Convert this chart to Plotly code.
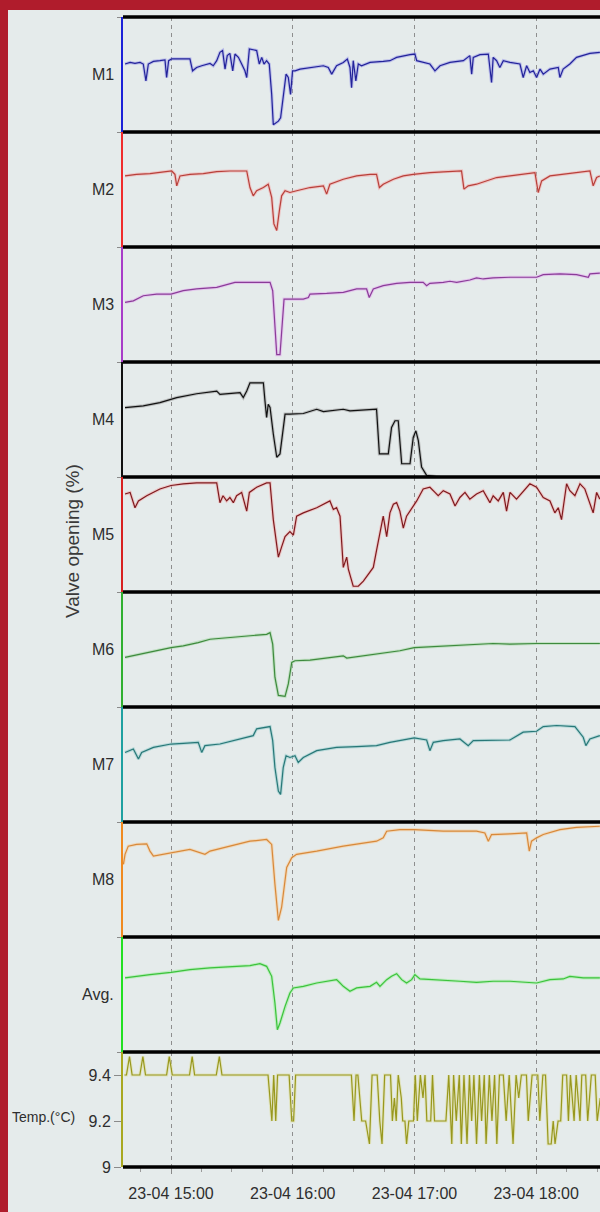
from datetime import datetime, timedelta
import plotly.graph_objects as go
from plotly.subplots import make_subplots

# ---------------- data (time = minutes after 14:00 on 23-04, values = valve opening %) -------------
M1_MIN = [37.3, 39.8, 42.2, 44.7, 46.3, 47.6, 48.8, 51.3, 54.5, 57.0,
          57.8, 58.8, 60.3, 69.3, 70.6, 72.6, 75.1, 79.2, 80.8, 82.5,
          84.1, 85.4, 86.6, 87.7, 89.0, 90.4, 91.5, 93.2, 94.8, 96.4,
          97.3, 98.6, 100.5, 102.2, 103.5, 104.7, 105.8, 107.1, 108.4, 109.6,
          110.4, 112.9, 114.0, 115.3, 116.7, 117.8, 118.9, 119.9, 121.1, 123.6,
          128.5, 135.1, 137.5, 139.2, 141.6, 144.9, 146.9, 148.2, 149.0, 149.8,
          151.1, 152.3, 153.9, 158.1, 164.6, 167.9, 169.6, 171.2, 177.8, 180.2,
          181.1, 187.6, 190.1, 192.6, 197.5, 204.1, 207.3, 208.2, 209.0, 212.3,
          216.4, 218.0, 218.8, 220.5, 222.1, 223.8, 227.1, 232.0, 233.6, 235.3,
          236.9, 238.6, 240.2, 241.9, 243.5, 246.8, 250.9, 251.7, 253.3, 256.6,
          259.9, 263.2, 266.5, 271.4]
M1_VAL = [59.1, 60.5, 59.6, 60.5, 59.1, 44.4, 59.1, 61.4, 62.0, 62.6,
          47.4, 62.0, 63.5, 63.5, 53.2, 56.1, 57.6, 59.6, 57.6, 62.0,
          69.3, 70.8, 54.7, 66.4, 68.4, 53.2, 67.8, 64.9, 59.1, 53.2,
          47.4, 72.2, 71.5, 70.8, 59.1, 64.9, 59.1, 62.0, 59.1, 32.7,
          6.4, 9.4, 12.3, 29.8, 50.3, 47.4, 32.7, 53.2, 53.2, 54.7,
          56.1, 57.6, 56.1, 50.3, 57.6, 60.5, 63.5, 56.1, 38.6, 62.0,
          44.4, 59.1, 57.6, 60.5, 61.4, 62.0, 63.5, 64.9, 67.3, 67.8,
          62.0, 59.1, 53.2, 57.6, 60.5, 62.0, 66.4, 50.3, 64.9, 67.3,
          67.8, 43.0, 64.9, 62.0, 56.1, 62.0, 60.5, 59.1, 47.4, 57.6,
          51.8, 53.2, 47.4, 54.7, 50.3, 54.7, 56.1, 47.4, 54.7, 59.1,
          64.9, 66.4, 68.4, 69.3]

M2_MIN = [37.3, 43.0, 49.6, 54.5, 60.3, 61.9, 62.8, 64.4, 69.3, 75.9,
          82.5, 89.0, 97.3, 98.9, 100.5, 102.2, 105.5, 107.9, 109.6, 110.7,
          112.1, 113.4, 114.5, 116.2, 118.6, 121.9, 125.2, 128.5, 135.1, 136.7,
          138.3, 144.9, 151.5, 158.1, 161.3, 162.7, 164.6, 169.6, 174.5, 179.4,
          187.6, 194.2, 203.2, 204.4, 206.5, 210.6, 215.6, 220.5, 227.1, 233.6,
          239.4, 241.0, 242.7, 246.8, 253.3, 259.9, 266.5, 268.1, 269.8, 271.4]
M2_VAL = [61.8, 63.2, 63.8, 64.7, 66.1, 63.2, 53.2, 61.8, 63.2, 63.8,
          65.5, 66.1, 66.1, 51.7, 44.5, 48.9, 51.7, 54.6, 43.1, 20.1,
          14.4, 31.6, 44.5, 48.9, 47.4, 48.9, 50.3, 51.7, 53.2, 46.0,
          54.6, 58.9, 61.8, 63.2, 63.2, 51.7, 54.6, 58.9, 61.8, 63.2,
          64.7, 65.5, 66.1, 50.3, 53.2, 54.6, 57.5, 60.4, 61.8, 63.2,
          64.7, 47.4, 57.5, 61.8, 63.2, 64.7, 66.1, 53.2, 60.4, 61.8]

M3_MIN = [37.3, 41.4, 46.3, 52.9, 60.0, 66.0, 72.6, 82.5, 91.5, 108.8,
          110.1, 111.2, 112.1, 113.7, 114.5, 115.7, 118.6, 125.2, 127.7, 128.5,
          136.7, 144.9, 151.5, 156.4, 157.7, 159.7, 164.6, 171.2, 177.8, 184.3,
          186.0, 187.6, 194.2, 197.5, 200.8, 207.3, 210.6, 213.9, 218.8, 227.1,
          240.2, 243.5, 251.7, 259.9, 265.7, 266.5, 271.4]
M3_VAL = [51.8, 53.2, 57.6, 59.1, 59.1, 62.0, 63.5, 64.9, 69.3, 69.3,
          62.0, 32.7, 6.4, 6.4, 24.0, 54.7, 54.7, 54.7, 56.1, 59.1,
          59.6, 60.5, 63.5, 63.5, 56.1, 63.5, 66.4, 68.4, 69.3, 69.3,
          66.4, 68.4, 69.3, 70.2, 69.3, 71.3, 73.1, 72.2, 73.1, 73.7,
          73.7, 76.0, 76.6, 76.0, 73.7, 76.6, 77.2]

M4_MIN = [37.3, 46.3, 54.5, 62.8, 72.6, 82.5, 84.1, 94.0, 95.6, 97.3,
          98.9, 105.5, 106.3, 107.1, 107.9, 108.8, 110.4, 112.1, 113.7, 115.3,
          116.2, 118.6, 125.2, 131.8, 135.1, 144.9, 148.2, 161.3, 162.7, 167.1,
          168.7, 170.4, 172.0, 173.7, 177.8, 179.4, 180.7, 181.9, 183.5, 186.0,
          190.9, 192.6]
M4_VAL = [60.4, 61.8, 64.7, 69.0, 72.4, 74.7, 71.9, 73.3, 69.0, 74.7,
          81.9, 81.9, 66.1, 51.7, 63.2, 60.4, 37.4, 17.2, 20.1, 43.1,
          54.6, 54.6, 55.2, 58.9, 56.9, 58.9, 57.5, 58.9, 20.1, 20.1,
          43.1, 48.9, 48.9, 11.5, 11.5, 34.5, 40.2, 31.6, 8.6, 1.4,
          0.6, 0.0]

M5_MIN = [37.3, 39.8, 42.2, 43.9, 48.0, 54.5, 60.0, 66.0, 72.6, 82.5,
          84.1, 85.6, 87.4, 89.0, 90.7, 92.3, 94.8, 97.3, 98.6, 102.2,
          107.1, 108.8, 110.4, 112.9, 114.5, 116.2, 118.6, 120.3, 121.9, 125.2,
          131.8, 138.3, 140.0, 141.6, 143.3, 144.9, 146.6, 147.4, 149.8, 152.3,
          154.8, 159.7, 161.3, 163.3, 164.6, 166.3, 167.9, 169.6, 171.2, 172.8,
          174.5, 176.1, 177.8, 181.1, 184.3, 187.6, 190.1, 191.7, 194.2, 197.5,
          200.0, 202.4, 204.9, 207.3, 210.6, 213.9, 217.2, 218.8, 221.3, 223.8,
          225.4, 227.1, 230.3, 234.5, 236.9, 240.2, 243.5, 246.8, 249.2, 250.9,
          252.5, 255.0, 256.6, 259.1, 261.6, 264.0, 266.5, 268.1, 269.8, 271.4]
M5_VAL = [85.2, 86.6, 73.3, 79.2, 83.7, 89.6, 92.6, 94.1, 94.9, 94.9,
          77.7, 83.7, 79.2, 82.2, 77.7, 83.7, 86.6, 70.3, 86.6, 91.1,
          94.9, 94.9, 62.9, 30.3, 39.2, 48.1, 52.5, 49.5, 65.9, 68.8,
          73.3, 79.2, 71.8, 73.3, 65.9, 21.4, 30.3, 19.9, 5.0, 5.0,
          9.5, 21.4, 36.2, 52.5, 65.9, 48.1, 68.8, 76.3, 77.7, 70.3,
          55.5, 65.9, 70.3, 79.2, 89.6, 91.1, 86.6, 83.7, 88.1, 85.2,
          74.8, 82.2, 86.6, 80.7, 85.2, 88.1, 77.7, 83.7, 79.2, 86.6,
          70.3, 86.6, 80.7, 89.6, 94.1, 91.1, 82.2, 79.2, 68.8, 73.3,
          62.9, 94.1, 88.1, 83.7, 94.1, 89.6, 77.7, 68.8, 86.6, 80.7]

M6_MIN = [37.3, 44.7, 52.9, 60.0, 66.0, 73.4, 79.2, 89.0, 98.9, 107.1,
          108.8, 110.1, 111.2, 112.9, 116.2, 117.8, 119.5, 121.1, 128.5, 136.7,
          144.9, 146.6, 154.8, 164.6, 172.8, 179.9, 187.6, 194.2, 210.6, 218.8,
          227.1, 240.2, 271.4]
M6_VAL = [43.1, 46.0, 48.9, 51.7, 53.2, 56.0, 58.9, 60.4, 61.8, 63.2,
          64.7, 54.6, 25.9, 10.1, 9.2, 20.1, 38.8, 40.2, 40.8, 42.5,
          44.5, 42.5, 44.5, 47.4, 48.9, 51.7, 52.3, 53.2, 54.0, 55.2,
          54.6, 55.2, 55.2]

M7_MIN = [37.3, 41.4, 43.9, 45.5, 51.3, 60.0, 66.0, 73.4, 75.1, 76.7,
          84.1, 91.5, 100.5, 102.2, 108.8, 110.1, 111.2, 112.9, 114.0, 115.3,
          116.7, 118.6, 121.1, 122.7, 125.2, 131.8, 141.6, 151.5, 161.3, 167.9,
          174.5, 179.9, 186.0, 187.6, 189.3, 194.2, 202.4, 206.5, 209.0, 218.8,
          227.1, 233.6, 240.2, 243.5, 250.1, 259.1, 263.2, 264.5, 266.5, 271.4]
M7_VAL = [60.5, 63.5, 54.7, 60.5, 64.9, 67.8, 68.4, 69.3, 60.5, 66.4,
          67.8, 70.8, 75.1, 81.0, 83.0, 70.8, 47.4, 26.9, 24.0, 47.4,
          57.6, 56.1, 57.6, 51.8, 56.1, 62.0, 64.9, 65.5, 66.4, 69.3,
          71.3, 73.1, 71.3, 62.0, 69.3, 70.8, 72.2, 66.4, 70.8, 71.3,
          71.3, 78.1, 78.9, 83.0, 83.9, 83.0, 73.7, 66.4, 72.2, 75.1]

M8_MIN = [36.5, 37.3, 38.9, 43.0, 48.0, 49.6, 51.3, 60.0, 69.3, 76.7,
          79.2, 89.0, 98.9, 107.1, 109.6, 111.2, 112.9, 114.5, 117.0, 119.5,
          121.9, 131.8, 144.9, 161.3, 164.6, 166.3, 172.8, 179.9, 194.2, 210.6,
          214.7, 216.4, 218.0, 227.1, 235.3, 236.6, 237.7, 240.2, 243.5, 251.7,
          259.9, 271.4]
M8_VAL = [63.2, 71.9, 79.0, 80.5, 81.0, 74.7, 70.4, 73.3, 76.2, 71.9,
          74.7, 79.0, 83.3, 84.8, 80.5, 46.0, 14.4, 25.9, 60.4, 69.0,
          71.9, 74.7, 79.0, 83.3, 86.2, 92.0, 93.4, 93.4, 92.0, 92.0,
          90.5, 83.3, 89.1, 89.7, 90.5, 74.7, 83.3, 86.2, 89.1, 93.4,
          95.4, 96.3]

AVG_MIN = [37.3, 43.0, 49.6, 60.0, 69.3, 79.2, 89.0, 98.9, 103.8, 107.1,
           109.6, 111.2, 112.4, 113.7, 116.2, 118.6, 120.3, 125.2, 131.8, 141.6,
           143.3, 144.9, 148.2, 151.5, 158.1, 161.3, 163.0, 166.3, 168.7, 171.2,
           173.7, 176.1, 178.6, 180.2, 182.7, 190.9, 202.4, 210.6, 218.8, 227.1,
           240.2, 246.8, 253.3, 256.6, 263.2, 271.4]
AVG_VAL = [64.4, 65.8, 67.3, 69.3, 71.6, 73.1, 73.9, 75.1, 76.8, 74.5,
           65.8, 42.6, 19.4, 25.2, 39.7, 51.3, 55.7, 57.1, 60.0, 62.9,
           60.0, 57.1, 52.8, 55.7, 57.1, 60.6, 57.1, 62.9, 65.8, 68.1,
           62.9, 60.0, 62.9, 67.3, 63.5, 62.9, 61.5, 60.6, 61.5, 61.5,
           60.0, 62.9, 63.5, 65.8, 64.4, 64.4]

TEMP_MIN = [37.0, 38.0, 39.5, 40.8, 44.6, 46.1, 47.4, 57.8, 59.1, 60.6,
            69.1, 70.4, 71.6, 82.3, 83.8, 85.1, 107.8, 108.7, 109.7, 110.6,
            111.6, 112.5, 118.2, 119.5, 120.4, 121.4, 148.9, 150.2, 151.2, 152.1,
            154.0, 155.9, 157.8, 159.1, 161.6, 162.9, 164.0, 165.3, 168.2, 169.1,
            170.1, 171.0, 172.0, 173.5, 174.2, 175.3, 176.1, 177.2, 179.5, 180.4,
            181.4, 182.9, 184.2, 185.2, 186.1, 188.0, 188.9, 189.9, 195.5, 196.9,
            198.4, 199.3, 200.6, 202.1, 203.1, 204.4, 205.9, 207.1, 208.2, 209.3,
            210.6, 212.0, 213.1, 214.4, 215.3, 216.9, 218.2, 219.5, 220.6, 221.9,
            223.8, 225.2, 226.7, 228.6, 230.1, 231.4, 232.7, 235.2, 236.1, 238.0,
            240.8, 241.8, 243.3, 244.6, 245.9, 247.4, 248.4, 249.3, 250.8, 252.1,
            253.1, 255.0, 255.9, 256.9, 258.7, 259.7, 261.6, 262.5, 264.4, 265.4,
            267.2, 269.1, 270.1, 271.6]
TEMP_VAL = [9.4, 9.4, 9.48, 9.4, 9.4, 9.48, 9.4, 9.4, 9.48, 9.4,
            9.4, 9.48, 9.4, 9.4, 9.48, 9.4, 9.4, 9.3, 9.2, 9.4,
            9.2, 9.4, 9.4, 9.2, 9.2, 9.4, 9.4, 9.2, 9.4, 9.4,
            9.2, 9.2, 9.1, 9.4, 9.4, 9.2, 9.1, 9.4, 9.4, 9.2,
            9.3, 9.2, 9.4, 9.3, 9.2, 9.2, 9.1, 9.2, 9.2, 9.4,
            9.2, 9.4, 9.3, 9.4, 9.2, 9.2, 9.4, 9.2, 9.2, 9.4,
            9.1, 9.4, 9.2, 9.4, 9.1, 9.4, 9.1, 9.4, 9.2, 9.4,
            9.1, 9.4, 9.2, 9.4, 9.1, 9.4, 9.2, 9.4, 9.1, 9.4,
            9.4, 9.2, 9.4, 9.1, 9.4, 9.3, 9.4, 9.4, 9.2, 9.4,
            9.4, 9.2, 9.4, 9.4, 9.1, 9.1, 9.2, 9.1, 9.2, 9.2,
            9.4, 9.4, 9.2, 9.4, 9.2, 9.4, 9.2, 9.4, 9.4, 9.2,
            9.4, 9.4, 9.2, 9.3]

PANEL_LABELS = ["M1", "M2", "M3", "M4", "M5", "M6", "M7", "M8", "Avg.", "Temp.(°C)"]
TEMP_TICKS = [9, 9.2, 9.4]
TEMP_TICK_TEXT = ["9", "9.2", "9.4"]
Y_TITLE = "Valve opening (%)"

SERIES = [(M1_MIN, M1_VAL), (M2_MIN, M2_VAL), (M3_MIN, M3_VAL), (M4_MIN, M4_VAL),
          (M5_MIN, M5_VAL), (M6_MIN, M6_VAL), (M7_MIN, M7_VAL), (M8_MIN, M8_VAL),
          (AVG_MIN, AVG_VAL), (TEMP_MIN, TEMP_VAL)]

# ---------------- styling -------------
LINE_COLORS = ["#23239a", "#b8403a", "#8a3c98", "#111111", "#7e1a1e",
               "#3e8a3e", "#287878", "#d8893a", "#3cc23c", "#98981e"]
HALO_COLORS = ["#9a9ae8", "#f4a8a8", "#e2a8ee", "#9a9a9a", "#f2a8a8",
               "#a6d8a6", "#94cccc", "#f8cc98", "#9cf09c", "#dede9a"]
AXIS_COLORS = ["#1c22d8", "#f02c2c", "#a83cc8", "#111111", "#d82020",
               "#30b030", "#1ea0a0", "#f08a20", "#22e022", "#a8a820"]
BG = "#e5ebeb"
BORDER_RED = "#b01c2c"
FONT = "Liberation Sans"
TXT = "#2e2e2e"

W, H = 600, 1212
ML, MR, MT, MB = 123, 0, 17, 45
PW, PH = W - ML - MR, H - MT - MB

base = datetime(2015, 4, 23, 14, 0)
def tx(mins):
    return [base + timedelta(minutes=m) for m in mins]

fig = make_subplots(rows=10, cols=1, shared_xaxes=True, vertical_spacing=0)

for i, (mins, vals) in enumerate(SERIES):
    assert len(mins) == len(vals), (i, len(mins), len(vals))
    x = tx(mins)
    fig.add_trace(go.Scatter(x=x, y=vals, mode="lines",
                             line=dict(color=HALO_COLORS[i], width=3.2),
                             opacity=0.55, hoverinfo="skip"), row=i + 1, col=1)
    fig.add_trace(go.Scatter(x=x, y=vals, mode="lines",
                             line=dict(color=LINE_COLORS[i], width=1.2)), row=i + 1, col=1)

x_start = base + timedelta(minutes=36.3)
x_end = base + timedelta(minutes=36.3 + PW * 60 / 121.7)

for i in range(10):
    fig.update_xaxes(row=i + 1, col=1, range=[x_start, x_end], showgrid=True,
                     gridcolor="#8e8e8e", gridwidth=1, griddash="4px,4px",
                     dtick=3600000, tick0=base + timedelta(hours=1),
                     zeroline=False, showline=False, showticklabels=False, ticks="")
    if i < 9:
        fig.update_yaxes(row=i + 1, col=1, range=[0, 100], showgrid=False, zeroline=False,
                         showline=True, linecolor=AXIS_COLORS[i], linewidth=2,
                         showticklabels=False, ticks="outside", ticklen=4,
                         tickcolor="#8a8a8a", tickvals=[0, 100])
    else:
        fig.update_yaxes(row=i + 1, col=1, range=[9, 9.5], showgrid=False, zeroline=False,
                         showline=True, linecolor=AXIS_COLORS[i], linewidth=2,
                         tickvals=TEMP_TICKS, ticktext=TEMP_TICK_TEXT,
                         ticks="outside", ticklen=7, tickcolor="#8a8a8a",
                         tickfont=dict(family=FONT, size=16, color=TXT))

fig.update_xaxes(row=10, col=1, showticklabels=True, tickformat="%d-%m %H:%M",
                 ticks="outside", ticklen=6, tickcolor="#8a8a8a", ticklabelstandoff=6,
                 tickfont=dict(family=FONT, size=16, color=TXT),
                 minor=dict(dtick=15 * 60 * 1000, ticks="outside", ticklen=4,
                            tickcolor="#9a9a9a", showgrid=False))

shapes = []
for k in range(11):
    shapes.append(dict(type="line", xref="paper", yref="paper", x0=0, x1=1,
                       y0=k / 10, y1=k / 10, line=dict(color="#000000", width=3.5),
                       layer="above"))
# red frame (left and top)
px = lambda p: (p - ML) / PW
py = lambda p: (MT + PH - p) / PH
shapes.append(dict(type="rect", xref="paper", yref="paper", x0=px(0), x1=px(8),
                   y0=py(H), y1=py(0), fillcolor=BORDER_RED, line=dict(width=0), layer="above"))
shapes.append(dict(type="rect", xref="paper", yref="paper", x0=px(0), x1=px(W),
                   y0=py(10), y1=py(0), fillcolor=BORDER_RED, line=dict(width=0), layer="above"))

annotations = []
for i, lab in enumerate(PANEL_LABELS[:9]):
    annotations.append(dict(text=lab, xref="paper", yref="paper", x=px(116),
                            y=1 - (i + 0.5) / 10, xanchor="right", yanchor="middle",
                            showarrow=False, font=dict(family=FONT, size=16, color=TXT)))
annotations.append(dict(text=PANEL_LABELS[9], xref="paper", yref="paper", x=px(77),
                        y=py(1117), xanchor="right", yanchor="middle", showarrow=False,
                        font=dict(family=FONT, size=14, color=TXT)))
annotations.append(dict(text=Y_TITLE, xref="paper", yref="paper", x=px(72), y=py(541),
                        xanchor="center", yanchor="middle", textangle=-90, showarrow=False,
                        font=dict(family=FONT, size=19, color="#3a3a3a")))

fig.update_layout(width=W, height=H, margin=dict(l=ML, r=MR, t=MT, b=MB),
                  paper_bgcolor=BG, plot_bgcolor=BG, showlegend=False,
                  font=dict(family=FONT, color=TXT), shapes=shapes,
                  annotations=annotations)

fig.write_html("out.html", config={"displayModeBar": False},
               post_script="document.body.style.margin='0';document.body.style.overflow='hidden';")
